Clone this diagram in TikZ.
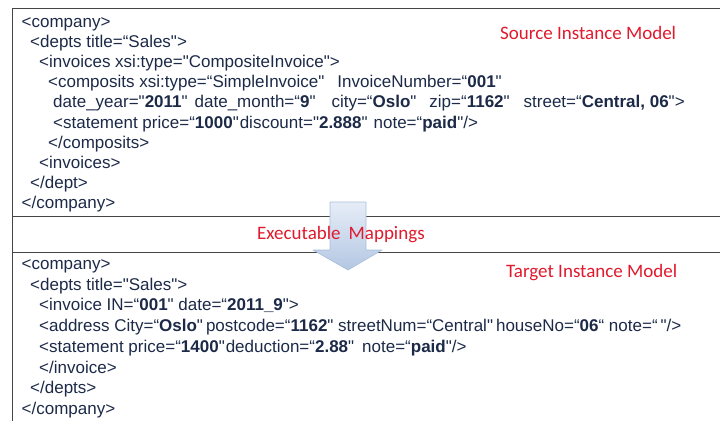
\documentclass[tikz,border=0pt]{standalone}
\usepackage{fontspec}
% plain family, so straight quotes stay straight
\newfontfamily\xmlfont{Liberation Sans}
\newfontfamily\labelfont{Carlito}
\definecolor{xmltext}{HTML}{1C2A48}
\definecolor{labelred}{RGB}{225,25,45}
\definecolor{rulegray}{HTML}{454545}
\definecolor{arrowtop}{HTML}{E6EDF7}
\definecolor{arrowbottom}{HTML}{B3C7E3}
\definecolor{arrowedge}{HTML}{A8BDDA}

\tikzset{
  xml/.style={anchor=base west, inner sep=0pt, text=xmltext,
    font=\xmlfont\fontsize{17}{20}\selectfont},
  modellabel/.style={anchor=base west, inner sep=0pt, text=labelred,
    font=\labelfont\fontsize{19}{22}\selectfont},
  framerule/.style={draw=rulegray, line width=1.5pt},
  maparrow/.style={top color=arrowtop, bottom color=arrowbottom,
    draw=arrowedge, line width=0.6pt, line join=round},
}

\begin{document}
\begin{tikzpicture}[x=1pt, y=-1pt]
  \useasboundingbox (0,0) rectangle (720,421);

  % table frame: open on the right and at the bottom
  \coordinate (frameTL) at (12.5,8.5);
  \coordinate (frameTR) at (720,8.5);
  \coordinate (frameBL) at (12.5,421);
  \draw[framerule] (frameTR) -- (frameTL) -- (frameBL);
  \draw[framerule] (12.5,216.5) -- (720,216.5);
  \draw[framerule] (12.5,252.5) -- (720,252.5);

  % mapping arrow between the two models
  \path[maparrow] (330,202) -- (366,202) -- (366,250) -- (382,250)
    -- (348,270) -- (313,250) -- (330,250) -- cycle;

  % source instance model
  \node[modellabel] (srcLabel) at (500,39) {Source Instance Model};
  \node[xml] (src1) at (21.5,27.5) {<company>};
  \node[xml] (src2) at (30,47.6) {<depts title=“Sales">};
  \node[xml] (src3) at (39,67.7) {<invoices xsi:type="CompositeInvoice">};
  \node[xml] (src4) at (48,87.8) {<composits xsi:type=“SimpleInvoice"\hspace{13pt}InvoiceNumber=“\textbf{001}"};
  \node[xml] (src5) at (53,107.9) {date\_year="\textbf{2011}"\hspace{7pt}date\_month=“\textbf{9}"\hspace{16pt}city=“\textbf{Oslo}"\hspace{13pt}zip=“\textbf{1162}"\hspace{14pt}street=“\textbf{Central, 06}">};
  \node[xml] (src6) at (53,128) {<statement price=“\textbf{1000}"\hspace{1pt}discount="\textbf{2.888}"\hspace{6pt}note=“\textbf{paid}"/>};
  \node[xml] (src7) at (48,148.1) {</composits>};
  \node[xml] (src8) at (39,168.2) {<invoices>};
  \node[xml] (src9) at (30,188.3) {</dept>};
  \node[xml] (src10) at (21.5,208.4) {</company>};

  % mapping caption
  \node[modellabel] (mapLabel) at (257,239.5) {Executable\hspace{8pt}Mappings};

  % target instance model
  \node[modellabel] (tgtLabel) at (506,277) {Target Instance Model};
  \node[xml] (tgt1) at (21.5,269.5) {<company>};
  \node[xml] (tgt2) at (30,290.2) {<depts title="Sales">};
  \node[xml] (tgt3) at (39,310.9) {<invoice IN=“\textbf{001}" date=“\textbf{2011\_9}">};
  \node[xml] (tgt4) at (39,331.6) {<address City=“\textbf{Oslo}"\hspace{3pt}postcode=“\textbf{1162}" streetNum=“Central"\hspace{3pt}houseNo=“\textbf{06}“ note=“\hspace{3pt}"/>};
  \node[xml] (tgt5) at (39,352.3) {<statement price=“\textbf{1400}"\hspace{1pt}deduction=“\textbf{2.88}"\hspace{8pt}note=“\textbf{paid}"/>};
  \node[xml] (tgt6) at (39,373) {</invoice>};
  \node[xml] (tgt7) at (30,393.7) {</depts>};
  \node[xml] (tgt8) at (21.5,414.4) {</company>};
\end{tikzpicture}
\end{document}
